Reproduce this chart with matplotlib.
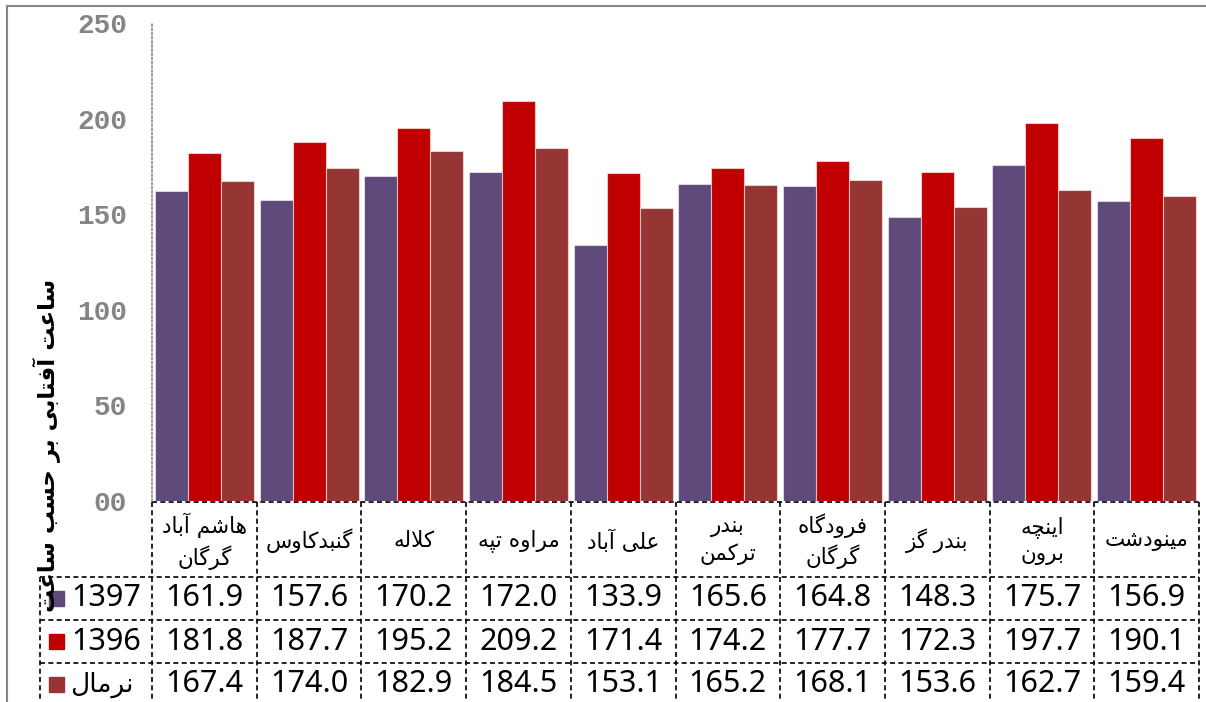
import numpy as np
import matplotlib
matplotlib.use('Agg')
import matplotlib.pyplot as plt
from matplotlib.transforms import blended_transform_factory
from matplotlib.patches import Rectangle
from matplotlib.lines import Line2D

# data
stations = ['هاشم آباد\nگرگان', 'گنبدکاوس', 'کلاله', 'مراوه تپه', 'علی آباد',
            'بندر\nترکمن', 'فرودگاه\nگرگان', 'بندر گز', 'اینچه\nبرون', 'مینودشت']
series_names = ['1397', '1396', 'نرمال']
vals_1397 = [161.9, 157.6, 170.2, 172.0, 133.9, 165.6, 164.8, 148.3, 175.7, 156.9]
vals_1396 = [181.8, 187.7, 195.2, 209.2, 171.4, 174.2, 177.7, 172.3, 197.7, 190.1]
vals_normal = [167.4, 174.0, 182.9, 184.5, 153.1, 165.2, 168.1, 153.6, 162.7, 159.4]
yticks = [0, 50, 100, 150, 200, 250]
ytick_labels = ['00', '50', '100', '150', '200', '250']
ylabel = 'ساعت آفتابی بر حسب ساعت'

colors = ['#604A7B', '#C00000', '#963634']

# matplotlib has no arabic shaping, so do it by hand with presentation forms
FORMS = {
    'ا': ('\uFE8D', '\uFE8E', None, None),
    'آ': ('\uFE81', '\uFE82', None, None),
    'ب': ('\uFE8F', '\uFE90', '\uFE91', '\uFE92'),
    'پ': ('\uFB56', '\uFB57', '\uFB58', '\uFB59'),
    'ت': ('\uFE95', '\uFE96', '\uFE97', '\uFE98'),
    'چ': ('\uFB7A', '\uFB7B', '\uFB7C', '\uFB7D'),
    'ح': ('\uFEA1', '\uFEA2', '\uFEA3', '\uFEA4'),
    'د': ('\uFEA9', '\uFEAA', None, None),
    'ر': ('\uFEAD', '\uFEAE', None, None),
    'ز': ('\uFEAF', '\uFEB0', None, None),
    'س': ('\uFEB1', '\uFEB2', '\uFEB3', '\uFEB4'),
    'ش': ('\uFEB5', '\uFEB6', '\uFEB7', '\uFEB8'),
    'ع': ('\uFEC9', '\uFECA', '\uFECB', '\uFECC'),
    'ف': ('\uFED1', '\uFED2', '\uFED3', '\uFED4'),
    'ک': ('\uFB8E', '\uFB8F', '\uFB90', '\uFB91'),
    'گ': ('\uFB92', '\uFB93', '\uFB94', '\uFB95'),
    'ل': ('\uFEDD', '\uFEDE', '\uFEDF', '\uFEE0'),
    'م': ('\uFEE1', '\uFEE2', '\uFEE3', '\uFEE4'),
    'ن': ('\uFEE5', '\uFEE6', '\uFEE7', '\uFEE8'),
    'ه': ('\uFEE9', '\uFEEA', '\uFEEB', '\uFEEC'),
    'و': ('\uFEED', '\uFEEE', None, None),
    'ی': ('\uFBFC', '\uFBFD', '\uFBFE', '\uFBFF'),
}
LAM_ALEF = {'ا': ('\uFEFB', '\uFEFC'), 'آ': ('\uFEF5', '\uFEF6')}


def dual(ch):
    return ch in FORMS and FORMS[ch][2] is not None


def shape_line(line):
    out = []
    i = 0
    n = len(line)
    while i < n:
        c = line[i]
        if c not in FORMS:
            out.append(c)
            i += 1
            continue
        pj = i > 0 and dual(line[i - 1])
        if c == 'ل' and i + 1 < n and line[i + 1] in LAM_ALEF:
            out.append(LAM_ALEF[line[i + 1]][1 if pj else 0])
            i += 2
            continue
        nj = dual(c) and i + 1 < n and line[i + 1] in FORMS
        iso, fin, ini, med = FORMS[c]
        if pj and nj:
            g = med
        elif pj:
            g = fin
        elif nj:
            g = ini
        else:
            g = iso
        out.append(g)
        i += 1
    return ''.join(reversed(out))


def fa(s):
    return '\n'.join(shape_line(l) for l in s.split('\n'))


W, H = 1206, 702
fig = plt.figure(figsize=(W / 100, H / 100), dpi=100)
ax = fig.add_axes([152 / W, 1 - 501 / H, 1047 / W, 478 / H])

x = np.arange(len(stations))
bw = 0.315
all_vals = [vals_1397, vals_1396, vals_normal]
for k, (v, c) in enumerate(zip(all_vals, colors)):
    ax.bar(x + (k - 1) * bw, v, bw, color=c, edgecolor=(1, 1, 1, 0.55), linewidth=0.8)

ax.set_xlim(-0.5, len(stations) - 0.5)
ax.set_ylim(0, 250)
ax.set_xticks([])
ax.set_yticks(yticks)
ax.set_yticklabels(ytick_labels, fontsize=20, color='#858585', family='Liberation Mono', weight='bold')
ax.tick_params(axis='y', length=0, pad=18)
for s in ['top', 'right', 'bottom']:
    ax.spines[s].set_visible(False)
ax.spines['left'].set_color('#8a8a8a')
ax.spines['left'].set_linewidth(1.2)
ax.spines['left'].set_linestyle((0, (1, 1.5)))

# data table under the plot (x in data units, y in figure pixels)
trans = blended_transform_factory(ax.transData, fig.transFigure)
col_w = 1047 / len(stations)


def fy(px):
    return 1 - px / H


def dx(px):
    return -0.5 + (px - 152) / col_w


dash = (0, (3, 2))
lkw = dict(color='black', lw=1.2, linestyle=dash, transform=trans, clip_on=False)
ax.plot([dx(152), dx(1199)], [fy(502), fy(502)], **lkw)
row_tops = [577, 620, 663]
for yt in row_tops:
    ax.plot([dx(40), dx(1199)], [fy(yt), fy(yt)], **lkw)
for k in range(len(stations) + 1):
    ax.plot([k - 0.5, k - 0.5], [fy(502), fy(720)], **lkw)
ax.plot([dx(40), dx(40)], [fy(577), fy(720)], **lkw)

for i, name in enumerate(stations):
    ax.text(i, fy(541), fa(name), transform=trans, ha='center', va='center',
            multialignment='center', fontsize=15.5, family='DejaVu Sans', linespacing=1.35)

for r, (v, c, nm) in enumerate(zip(all_vals, colors, series_names)):
    yc = row_tops[r] + 21.5
    for i, val in enumerate(v):
        ax.text(i, fy(yc), '%.1f' % val, transform=trans, ha='center', va='center',
                fontsize=22, family='Noto Sans')
    fig.patches.append(Rectangle((49 / W, fy(yc + 7.5)), 15 / W, 15 / H, color=c,
                                 transform=fig.transFigure, figure=fig))
    if nm.isdigit():
        fig.text(71 / W, fy(yc), nm, ha='left', va='center', fontsize=22, family='Noto Sans')
    else:
        fig.text(70 / W, fy(yc), fa(nm), ha='left', va='center', fontsize=19, family='DejaVu Sans')

fig.text(47 / W, fy(445), fa(ylabel), rotation=90, ha='center', va='center',
         fontsize=16.5, weight='bold', family='DejaVu Sans')

# chart border
fig.add_artist(Line2D([7 / W, 7 / W], [0, fy(6)], color='#878787', lw=1.5))
fig.add_artist(Line2D([7 / W, 1], [fy(6), fy(6)], color='#878787', lw=1.5))

fig.savefig('out.png', dpi=100)
